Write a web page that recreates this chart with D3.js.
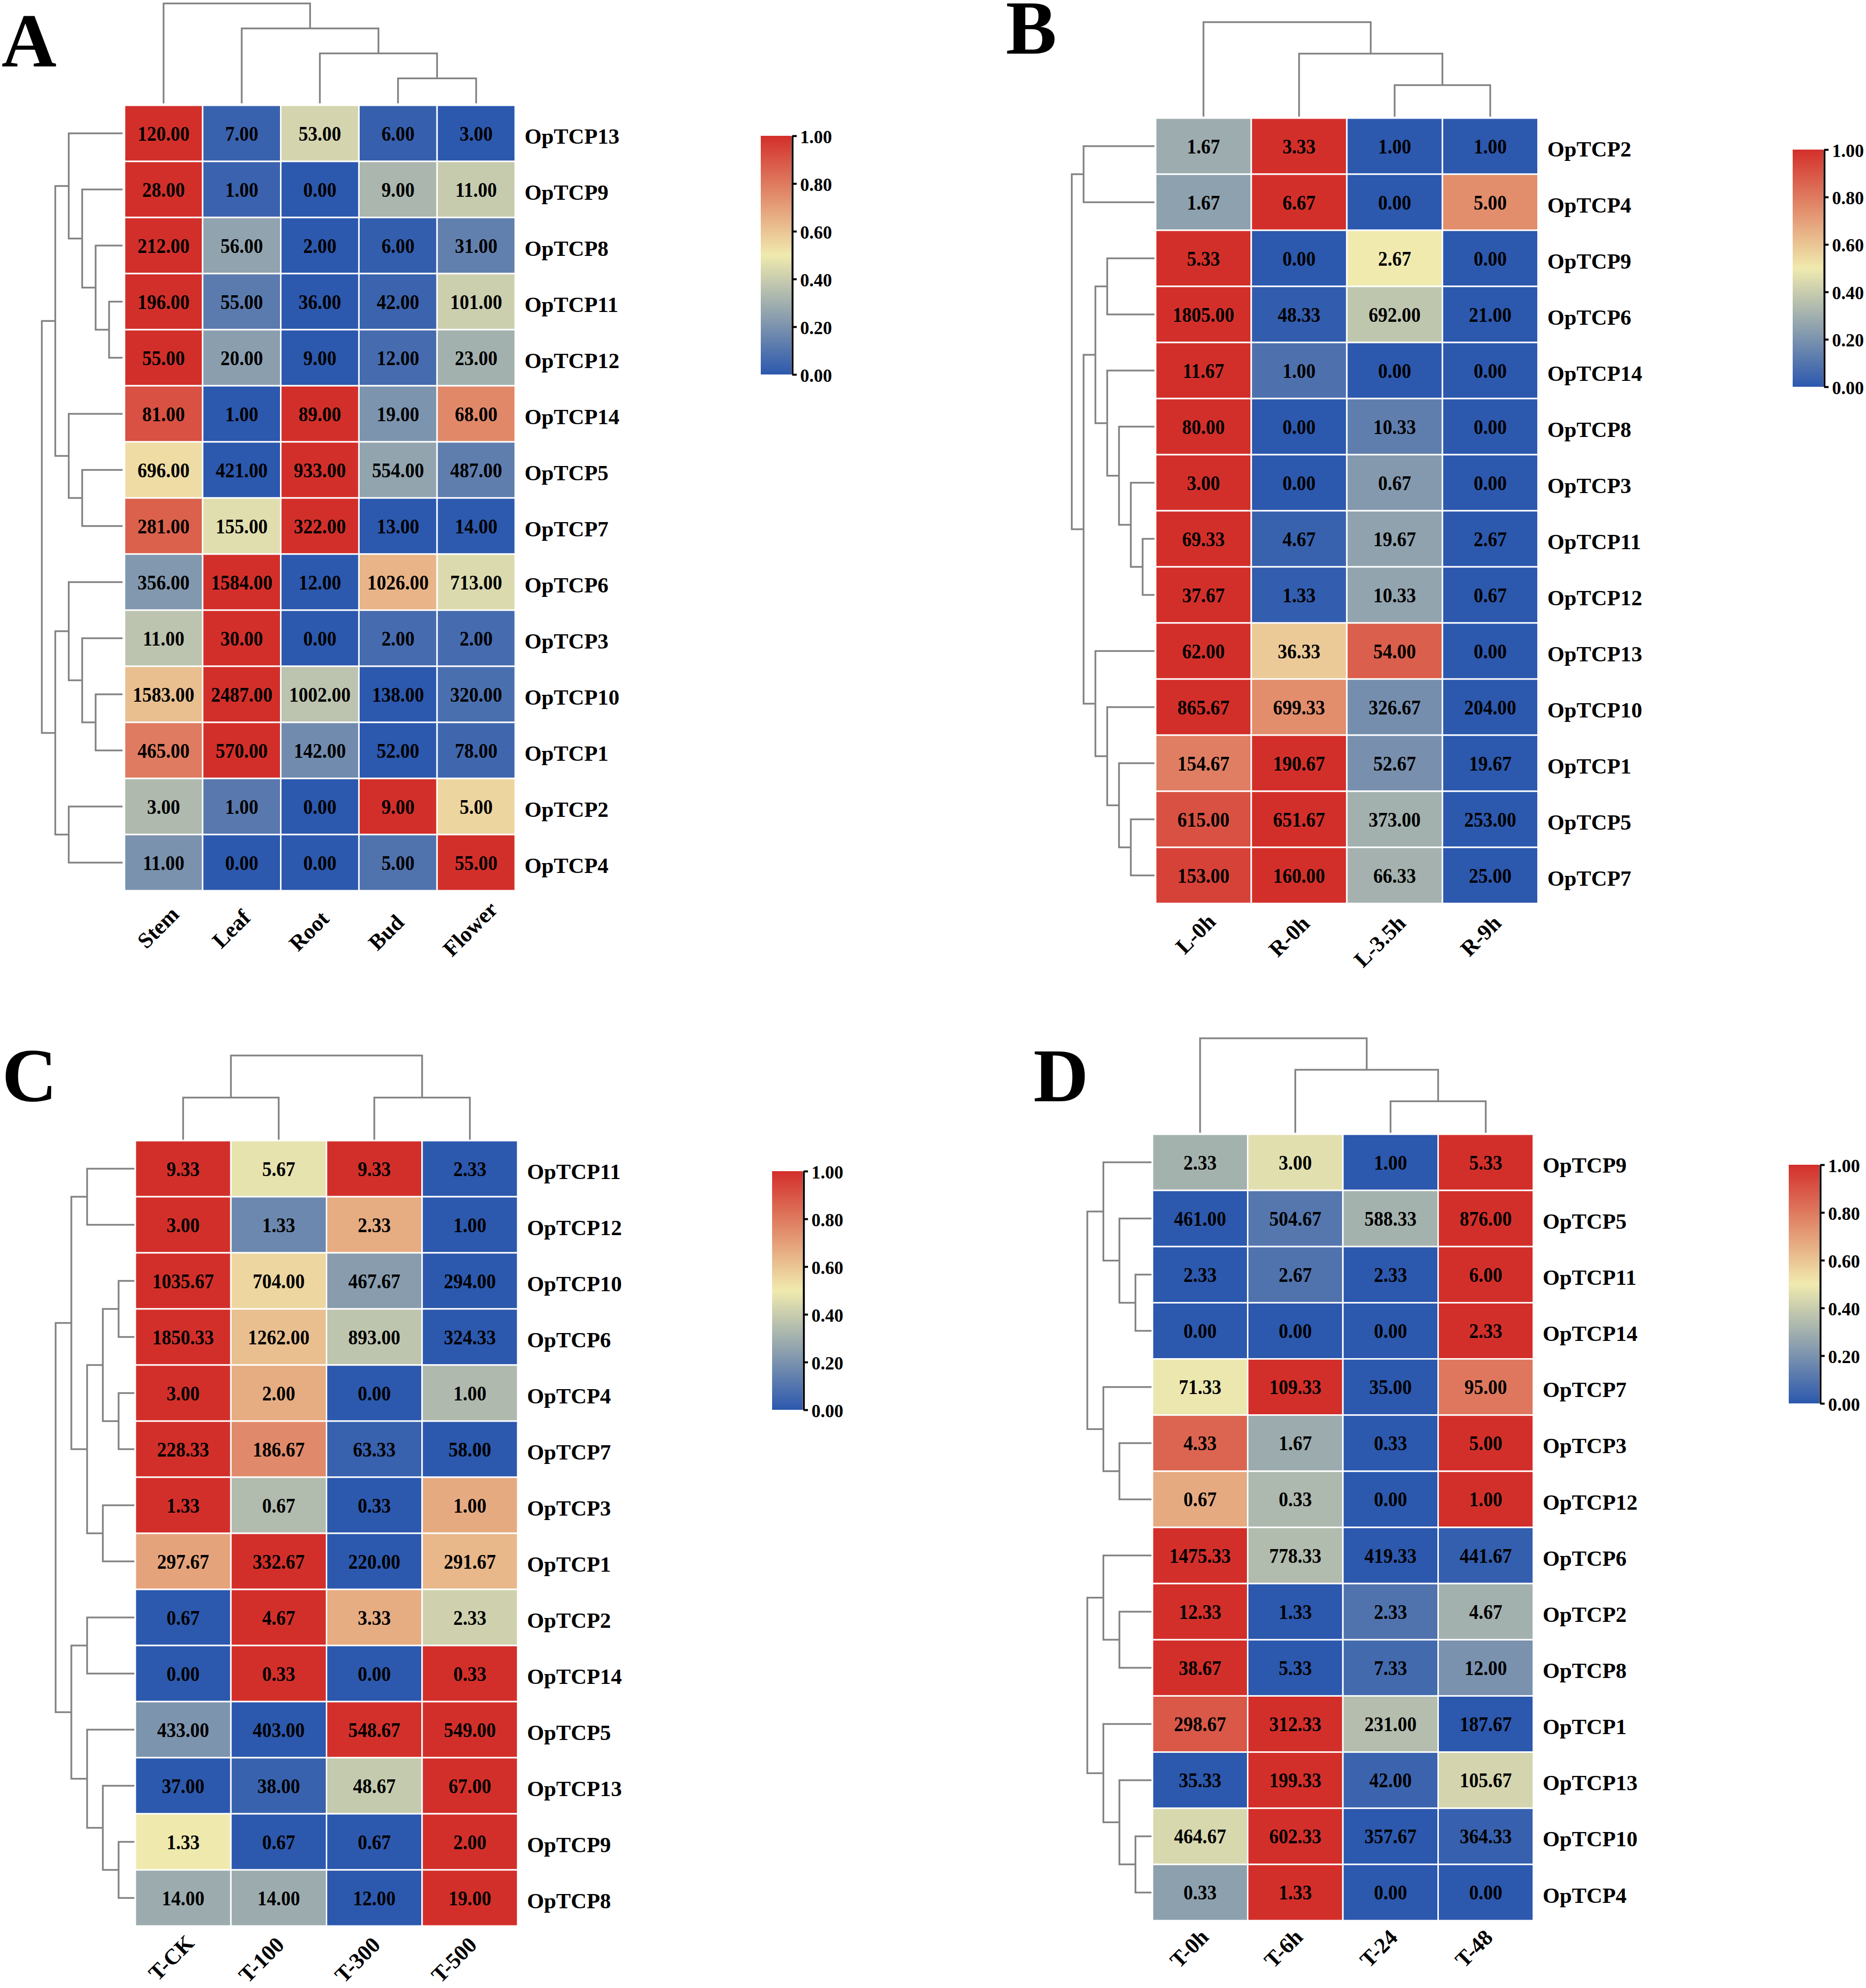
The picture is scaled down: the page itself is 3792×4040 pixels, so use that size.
<!DOCTYPE html>
<html lang="en">
<head>
  <meta charset="UTF-8">
  <title>OpTCP heatmaps</title>
  <script src="https://d3js.org/d3.v7.min.js"></script>
  <style>
    body { margin: 0; background: #fff; }
    svg { display: block; }
    text { font-family: "Liberation Serif", serif; font-weight: bold; fill: #000; }
  </style>
</head>
<body>
<script>

  // panel A
  const colsA = ["Stem", "Leaf", "Root", "Bud", "Flower"];
  const rowsA = [13, 9, 8, 11, 12, 14, 5, 7, 6, 3, 10, 1, 2, 4];
  const valuesA = [
    [120, 7, 53, 6, 3],
    [28, 1, 0, 9, 11],
    [212, 56, 2, 6, 31],
    [196, 55, 36, 42, 101],
    [55, 20, 9, 12, 23],
    [81, 1, 89, 19, 68],
    [696, 421, 933, 554, 487],
    [281, 155, 322, 13, 14],
    [356, 1584, 12, 1026, 713],
    [11, 30, 0, 2, 2],
    [1583, 2487, 1002, 138, 320],
    [465, 570, 142, 52, 78],
    [3, 1, 0, 9, 5],
    [11, 0, 0, 5, 55]
  ];
  const colTreeA = ["Stem", ["Leaf", ["Root", ["Bud", "Flower"]]]];
  const rowTreeA = [[[13, [9, [8, [11, 12]]]], [14, [5, 7]]], [[6, [3, [10, 1]]], [2, 4]]];

  // panel B
  const colsB = ["L-0h", "R-0h", "L-3.5h", "R-9h"];
  const rowsB = [2, 4, 9, 6, 14, 8, 3, 11, 12, 13, 10, 1, 5, 7];
  const valuesB = [
    [1.67, 3.33, 1, 1],
    [1.67, 6.67, 0, 5],
    [5.33, 0, 2.67, 0],
    [1805, 48.33, 692, 21],
    [11.67, 1, 0, 0],
    [80, 0, 10.33, 0],
    [3, 0, 0.67, 0],
    [69.33, 4.67, 19.67, 2.67],
    [37.67, 1.33, 10.33, 0.67],
    [62, 36.33, 54, 0],
    [865.67, 699.33, 326.67, 204],
    [154.67, 190.67, 52.67, 19.67],
    [615, 651.67, 373, 253],
    [153, 160, 66.33, 25]
  ];
  const colTreeB = ["L-0h", ["R-0h", ["L-3.5h", "R-9h"]]];
  const rowTreeB = [[2, 4], [[[9, 6], [14, [8, [3, [11, 12]]]]], [13, [10, [1, [5, 7]]]]]];

  // panel C
  const colsC = ["T-CK", "T-100", "T-300", "T-500"];
  const rowsC = [11, 12, 10, 6, 4, 7, 3, 1, 2, 14, 5, 13, 9, 8];
  const valuesC = [
    [9.33, 5.67, 9.33, 2.33],
    [3, 1.33, 2.33, 1],
    [1035.67, 704, 467.67, 294],
    [1850.33, 1262, 893, 324.33],
    [3, 2, 0, 1],
    [228.33, 186.67, 63.33, 58],
    [1.33, 0.67, 0.33, 1],
    [297.67, 332.67, 220, 291.67],
    [0.67, 4.67, 3.33, 2.33],
    [0, 0.33, 0, 0.33],
    [433, 403, 548.67, 549],
    [37, 38, 48.67, 67],
    [1.33, 0.67, 0.67, 2],
    [14, 14, 12, 19]
  ];
  const colTreeC = [["T-CK", "T-100"], ["T-300", "T-500"]];
  const rowTreeC = [[[11, 12], [[[10, 6], [4, 7]], [3, 1]]], [[2, 14], [5, [13, [9, 8]]]]];

  // panel D
  const colsD = ["T-0h", "T-6h", "T-24", "T-48"];
  const rowsD = [9, 5, 11, 14, 7, 3, 12, 6, 2, 8, 1, 13, 10, 4];
  const valuesD = [
    [2.33, 3, 1, 5.33],
    [461, 504.67, 588.33, 876],
    [2.33, 2.67, 2.33, 6],
    [0, 0, 0, 2.33],
    [71.33, 109.33, 35, 95],
    [4.33, 1.67, 0.33, 5],
    [0.67, 0.33, 0, 1],
    [1475.33, 778.33, 419.33, 441.67],
    [12.33, 1.33, 2.33, 4.67],
    [38.67, 5.33, 7.33, 12],
    [298.67, 312.33, 231, 187.67],
    [35.33, 199.33, 42, 105.67],
    [464.67, 602.33, 357.67, 364.33],
    [0.33, 1.33, 0, 0]
  ];
  const colTreeD = ["T-0h", ["T-6h", ["T-24", "T-48"]]];
  // no root bracket in this one, the two clusters stand apart in the figure
  const rowTreeD = [[[9, [5, [11, 14]]], [7, [3, 12]]], [[6, [2, 8]], [1, [13, [10, 4]]]]];

  const legendTicks = [0, 0.2, 0.4, 0.6, 0.8, 1];
  const colorStops = [0, 0.5, 1];
  const colorRange = ["#2c58ae", "#f0eaae", "#d32f2a"];

  // layout of each panel, in page pixels
  const panels = [
    { letter: "A", lx: 3, ly: 135, cols: colsA, rows: rowsA, values: valuesA, colTree: colTreeA, rowTree: rowTreeA,
      x: [253, 1047], y: [214, 1810], rowX: [85, 249], colY: [7, 210],
      labelDx: [-11, -21, -22, -24, -12], labelDy: [75, 78, 82, 85, 78], legX: 1546, legY: [276, 761], showRoot: true },
    { letter: "B", lx: 2044, ly: 109, cols: colsB, rows: rowsB, values: valuesB, colTree: colTreeB, rowTree: rowTreeB,
      x: [2348.5, 3125.5], y: [240, 1836], rowX: [2178, 2346], colY: [45, 237],
      labelDx: [-16, -20, -30, -19], labelDy: [62, 67, 77, 66], legX: 3643, legY: [304, 786], showRoot: true },
    { letter: "C", lx: 4, ly: 2237, cols: colsC, rows: rowsC, values: valuesC, colTree: colTreeC, rowTree: rowTreeC,
      x: [275, 1052], y: [2318, 3914], rowX: [113, 273], colY: [2145, 2316],
      labelDx: [-24, -35, -34, -32], labelDy: [65, 69, 69, 69], legX: 1569, legY: [2380, 2865], showRoot: true },
    { letter: "D", lx: 2100, ly: 2238, cols: colsD, rows: rowsD, values: valuesD, colTree: colTreeD, rowTree: rowTreeD,
      x: [2342, 3116], y: [2305, 3903], rowX: [2177, 2340], colY: [2110, 2302],
      labelDx: [-22, -24, -24, -24], labelDy: [57, 57, 57, 57], legX: 3635, legY: [2367, 2852], showRoot: false }
  ];

  const width = 3792, height = 4040;
  const fmt = d3.format(".2f");
  const color = d3.scaleLinear().domain(colorStops).range(colorRange);

  const svg = d3.select("body").append("svg").attr("width", width).attr("height", height);

  const grad = svg.append("defs").append("linearGradient")
    .attr("id", "legendGrad").attr("x1", 0).attr("y1", 1).attr("x2", 0).attr("y2", 0);
  grad.selectAll("stop").data(colorStops).join("stop")
    .attr("offset", d => d)
    .attr("stop-color", d => color(d));

  // bracket for every inner node, leaves sit at the far end of the depth scale
  function drawTree(g, tree, leafPos, depthRange, horizontal, showRoot) {
    const root = d3.hierarchy(tree, d => Array.isArray(d) ? d : null);
    const depth = d3.scaleLinear().domain([0, root.height]).range(depthRange);
    root.eachAfter(n => {
      n.pos = n.children ? d3.mean(n.children, c => c.pos) : leafPos(n.data);
    });
    const nodes = root.descendants().filter(n => n.children && (showRoot || n.depth > 0));
    const pt = (d, p) => horizontal ? `${d},${p}` : `${p},${d}`;
    g.selectAll("path").data(nodes).join("path")
      .attr("d", n => {
        const [a, b] = n.children;
        const da = a.children ? depth(a.depth) : depth(root.height);
        const db = b.children ? depth(b.depth) : depth(root.height);
        const d0 = depth(n.depth);
        return `M${pt(da, a.pos)}L${pt(d0, a.pos)}L${pt(d0, b.pos)}L${pt(db, b.pos)}`;
      })
      .style("fill", "none")
      .style("stroke", "#828282")
      .style("stroke-width", 3.5);
  }

  panels.forEach(p => {
    const g = svg.append("g");
    const rowNames = p.rows.map(r => "OpTCP" + r);

    const xScale = d3.scaleBand().domain(p.cols).range(p.x);
    const yScale = d3.scaleBand().domain(rowNames).range(p.y);

    g.append("text").attr("x", p.lx).attr("y", p.ly).style("font-size", "155px").text(p.letter);

    // cells, colour is min-max scaled inside each row
    const cells = p.values.flatMap((vals, i) => {
      const [lo, hi] = d3.extent(vals);
      return vals.map((v, j) => ({ row: rowNames[i], col: p.cols[j], v: v, t: (v - lo) / (hi - lo) }));
    });
    g.append("g").selectAll("rect").data(cells).join("rect")
      .attr("x", d => xScale(d.col))
      .attr("y", d => yScale(d.row))
      .attr("width", xScale.bandwidth())
      .attr("height", yScale.bandwidth())
      .style("fill", d => color(d.t))
      .style("stroke", "#fff")
      .style("stroke-width", 3);
    // the cell numbers are a bit taller than the font in the original
    g.append("g").selectAll("text").data(cells).join("text")
      .attr("text-anchor", "middle")
      .attr("transform", d => `translate(${xScale(d.col) + xScale.bandwidth() / 2},${yScale(d.row) + yScale.bandwidth() / 2 + 14.5}) scale(1,1.12)`)
      .style("font-size", "38.5px")
      .text(d => fmt(d.v));

    // row labels
    g.append("g").selectAll("text").data(rowNames).join("text")
      .attr("x", p.x[1] + 19)
      .attr("y", d => yScale(d) + yScale.bandwidth() / 2 + 5)
      .attr("dy", "0.35em")
      .style("font-size", "44.5px")
      .text(d => d);

    // column labels
    g.append("g").selectAll("text").data(p.cols).join("text")
      .attr("text-anchor", "middle")
      .attr("dy", "0.33em")
      .attr("transform", (d, i) => `translate(${xScale(d) + xScale.bandwidth() / 2 + p.labelDx[i]},${p.y[1] + p.labelDy[i]}) rotate(-45)`)
      .style("font-size", "45px")
      .text(d => d);

    // dendrograms
    drawTree(g.append("g"), p.colTree, d => xScale(d) + xScale.bandwidth() / 2, p.colY, false, true);
    drawTree(g.append("g"), p.rowTree, d => yScale("OpTCP" + d) + yScale.bandwidth() / 2, p.rowX, true, p.showRoot);

    // colour legend
    const legScale = d3.scaleLinear().domain([0, 1]).range([p.legY[1], p.legY[0]]);
    g.append("rect")
      .attr("x", p.legX).attr("y", p.legY[0])
      .attr("width", 62).attr("height", p.legY[1] - p.legY[0])
      .style("fill", "url(#legendGrad)");
    const legAxis = g.append("g")
      .attr("transform", `translate(${p.legX + 64},0)`)
      .call(d3.axisRight(legScale).tickValues(legendTicks).tickFormat(fmt).tickSize(9).tickSizeOuter(0).tickPadding(7));
    legAxis.selectAll("path, line").style("stroke", "#000").style("stroke-width", 4);
    legAxis.selectAll("text").attr("dy", "0.38em").style("font-size", "37px").style("font-family", "'Liberation Serif', serif");
  });

</script>
</body>
</html>
